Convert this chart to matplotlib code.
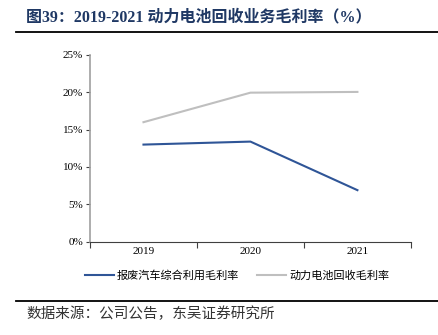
import matplotlib
matplotlib.use("Agg")
from matplotlib import pyplot as plt
from matplotlib.lines import Line2D

years = ["2019", "2020", "2021"]
scrap_car = [13.0, 13.4, 6.9]      # 报废汽车综合利用毛利率
battery = [16.0, 19.95, 20.05]     # 动力电池回收毛利率
yticks = [0, 5, 10, 15, 20, 25]

fig = plt.figure(figsize=(4.39, 3.35), dpi=100)
ax = fig.add_axes([0.205, 0.2785, 0.731, 0.5575])

x = list(range(len(years)))
ax.plot(x, scrap_car, color="#2f5597", lw=1.5, label="报废汽车综合利用毛利率")
ax.plot(x, battery, color="#bfbfbf", lw=1.5, label="动力电池回收毛利率")

ax.set_xlim(-0.5, len(years) - 0.5)
ax.set_ylim(0, 25)
ax.set_yticks(yticks)
ax.set_yticklabels([f"{v}%" for v in yticks], family="Liberation Serif", fontsize=8)

# category boundaries as major ticks, labels centred with minor ticks
ax.set_xticks([i - 0.5 for i in range(len(years) + 1)])
ax.set_xticklabels([])
ax.set_xticks(x, minor=True)
ax.set_xticklabels(years, minor=True, family="Liberation Serif", fontsize=8)
ax.tick_params(axis="x", which="minor", length=0, pad=4)
ax.tick_params(axis="x", which="major", length=4, direction="out", color="#404040")
ax.tick_params(axis="y", length=3, direction="out", color="#404040", pad=2)

for s in ["top", "right"]:
    ax.spines[s].set_visible(False)
ax.spines["left"].set_color("#a0a0a0")
ax.spines["left"].set_linewidth(1.2)
ax.spines["bottom"].set_color("#404040")

handles = [Line2D([], [], color="#2f5597", lw=1.5), Line2D([], [], color="#bfbfbf", lw=1.5)]
fig.legend(handles, ["报废汽车综合利用毛利率", "动力电池回收毛利率"], loc="center",
           bbox_to_anchor=(0.54, 0.178), ncol=2, frameon=False, handlelength=2.6,
           handletextpad=0.3, columnspacing=1.6, prop={"family": "Noto Sans CJK SC", "size": 8})

fig.text(0.06, 0.948, "图39：2019-2021 动力电池回收业务毛利率（%）", fontsize=11.5,
         fontweight="bold", color="#1f3864", va="center",
         family=["Liberation Serif", "Noto Sans CJK SC"])
fig.add_artist(Line2D([0.036, 1.0], [0.903, 0.903], color="black", lw=1.3))
fig.add_artist(Line2D([0.036, 1.0], [0.101, 0.101], color="black", lw=1.3))
fig.text(0.06, 0.064, "数据来源：公司公告，东吴证券研究所", fontsize=10.5, color="#333333",
         va="center", family="Noto Sans CJK SC", fontweight="light")

fig.savefig("out.png", dpi=100)
